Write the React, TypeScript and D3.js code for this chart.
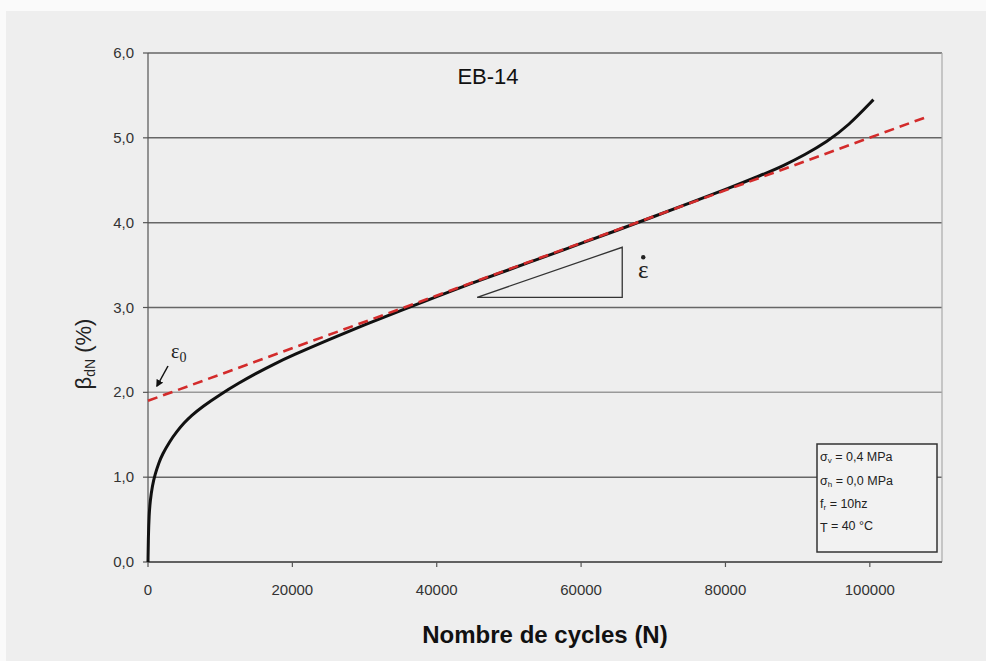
import React from "react";
import * as d3 from "d3";

const cycles = [0, 50, 150, 300, 600, 1000, 1500, 2000, 3000, 4000, 5000, 6000, 7500, 10000, 12500, 15000, 17500, 20000, 25000, 30000, 35000, 40000, 45000, 50000, 55000, 60000, 65000, 70000, 75000, 80000, 85000, 88000, 91000, 94000, 97000, 100500];
const strain = [0, 0.3, 0.55, 0.72, 0.9, 1.04, 1.17, 1.27, 1.42, 1.54, 1.64, 1.725, 1.83, 1.975, 2.105, 2.225, 2.335, 2.435, 2.62, 2.795, 2.965, 3.13, 3.29, 3.445, 3.6, 3.755, 3.91, 4.07, 4.23, 4.39, 4.56, 4.67, 4.8, 4.95, 5.14, 5.45];
const fitX = [0, 108000];
const fitY = [1.9, 5.25];
const triX = [45600, 65700];
const triY = [3.12, 3.71];
const xTicks = [0, 20000, 40000, 60000, 80000, 100000];
const yTicks = [0, 1, 2, 3, 4, 5, 6];
const legendLines = [
  ["σ", "v", " = 0,4 MPa"],
  ["σ", "h", " = 0,0 MPa"],
  ["f", "r", " = 10hz"],
  ["T", "", " = 40 °C"],
];

export default function App() {
  const W = 986, H = 661;
  const left = 148, right = 942, top = 53, bottom = 562;
  const x = d3.scaleLinear().domain([0, 110000]).range([left, right]);
  const y = d3.scaleLinear().domain([0, 6]).range([bottom, top]);
  const line = d3.line<[number, number]>().x(d => x(d[0])).y(d => y(d[1])).curve(d3.curveBasis);
  const pts: [number, number][] = cycles.map((c, i) => [c, strain[i]]);
  const fit: [number, number][] = fitX.map((c, i) => [c, fitY[i]]);
  const font = "Arial, 'Liberation Sans', sans-serif";
  return (
    <svg width={W} height={H} style={{ position: "absolute", left: 0, top: 0 }} fontFamily={font}>
      <defs>
        <marker id="ah" viewBox="0 0 10 10" refX="8" refY="5" markerWidth="5" markerHeight="5" orient="auto">
          <path d="M0,0 L10,5 L0,10 z" fill="#111" />
        </marker>
      </defs>
      <rect x={0} y={0} width={W} height={H} fill="#fafafa" />
      <rect x={6} y={11} width={W - 6} height={H - 11} fill="#eeeeee" />
      {yTicks.map(t => (
        <g key={t}>
          <line x1={left} x2={right} y1={y(t)} y2={y(t)} stroke={t === 2 ? "#999" : "#666"} strokeWidth={1.5} />
          <line x1={left - 5} x2={left} y1={y(t)} y2={y(t)} stroke="#555" strokeWidth={1.2} />
          <text x={left - 14} y={y(t) + 5} textAnchor="end" fontSize={15} fill="#333">{d3.format(".1f")(t).replace(".", ",")}</text>
        </g>
      ))}
      <line x1={right} x2={right} y1={top} y2={bottom} stroke="#aaa" strokeWidth={1.2} />
      <line x1={left} x2={left} y1={top} y2={bottom} stroke="#555" strokeWidth={1.2} />
      <line x1={left} x2={right} y1={bottom} y2={bottom} stroke="#555" strokeWidth={1.5} />
      {xTicks.map(t => (
        <g key={t}>
          <line x1={x(t)} x2={x(t)} y1={bottom} y2={bottom + 5} stroke="#555" strokeWidth={1.2} />
          <text x={x(t)} y={bottom + 33} textAnchor="middle" fontSize={15} fill="#333">{t}</text>
        </g>
      ))}
      <path d={line(pts) || ""} fill="none" stroke="#111" strokeWidth={3} />
      <path d={d3.line<[number, number]>().x(d => x(d[0])).y(d => y(d[1]))(fit) || ""} fill="none" stroke="#d32b2b" strokeWidth={2.6} strokeDasharray="10,6" />
      <path d={`M${x(triX[0])},${y(triY[0])} L${x(triX[1])},${y(triY[0])} L${x(triX[1])},${y(triY[1])} Z`} fill="none" stroke="#333" strokeWidth={1.3} />
      <text x={x(triX[1]) + 21} y={y(triY[0]) - 19} textAnchor="middle" fontSize={25} fontFamily="'Liberation Serif', serif" fill="#222">ε</text>
      <circle cx={x(triX[1]) + 21} cy={y(triY[0]) - 40} r={2.2} fill="#222" />
      <text x={488} y={84} textAnchor="middle" fontSize={22} fill="#111">EB-14</text>
      <text x={171} y={358} fontSize={20} fontFamily="'Liberation Serif', serif" fill="#222">ε<tspan fontSize={14} dy={4}>0</tspan></text>
      <line x1={168} y1={366} x2={157} y2={386} stroke="#111" strokeWidth={1.5} markerEnd="url(#ah)" />
      <rect x={817} y={444} width={120} height={108} fill="#f2f2f2" stroke="#333" strokeWidth={1.5} />
      {legendLines.map((l, i) => (
        <text key={i} x={820} y={461 + i * 23.5} fontSize={12.5} fill="#222">
          {l[0]}<tspan fontSize={8} dy={2}>{l[1]}</tspan><tspan dy={-2}>{l[2]}</tspan>
        </text>
      ))}
      <text x={545} y={643} textAnchor="middle" fontSize={24} fontWeight="bold" fill="#111">Nombre de cycles (N)</text>
      <text transform="translate(91,354) rotate(-90)" textAnchor="middle" fontSize={22} fill="#222">β<tspan fontSize={14} dy={4}>dN</tspan><tspan dy={-4}> (%)</tspan></text>
    </svg>
  );
}
